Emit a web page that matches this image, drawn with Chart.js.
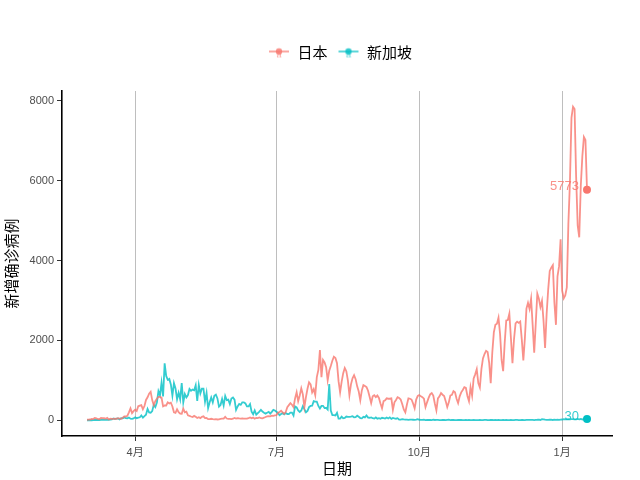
<!DOCTYPE html>
<html>
<head>
<meta charset="utf-8">
<script src="https://cdn.jsdelivr.net/npm/chart.js@4/dist/chart.umd.min.js"></script>
<style>
  html, body { margin: 0; padding: 0; background: #ffffff; }
  #c { display: block; }
</style>
</head>
<body>
<canvas id="c" width="640" height="480"></canvas>
<script>
// ---- Data (day index 0 = 2020-03-01, last = 2021-01-17) ----
const startDate = '2020-03-01';
const seriesNames = ['日本', '新加坡'];
const xTickDays = [31, 122, 214, 306];          // 2020-04-01, 07-01, 10-01, 2021-01-01
const xTickLabels = ['4月', '7月', '10月', '1月'];
const yTickValues = [0, 2000, 4000, 6000, 8000];

const japan = [
  // Mar
  14, 16, 20, 33, 31, 59, 47, 33, 26, 59, 52, 54, 41, 63, 21, 43, 34, 38, 39, 35, 53, 43, 39, 65, 96, 96, 112, 200, 300, 180, 230,
  // Apr
  266, 235, 351, 367, 380, 278, 357, 510, 576, 666, 714, 507, 380, 482, 540, 587, 588, 568, 349, 374, 371, 450, 423, 440, 345, 201, 185, 277, 203, 166,
  // May
  165, 294, 200, 218, 124, 113, 96, 82, 110, 88, 58, 77, 55, 89, 99, 55, 58, 30, 30, 39, 29, 26, 30, 21, 22, 35, 40, 42, 85, 45, 36,
  // Jun
  38, 31, 40, 60, 45, 56, 46, 41, 45, 40, 41, 43, 53, 72, 52, 69, 40, 62, 57, 70, 53, 51, 65, 82, 99, 103, 99, 116, 111, 125,
  // Jul
  130, 190, 210, 240, 200, 160, 210, 330, 380, 430, 390, 330, 550, 700, 480, 620, 800, 650, 330, 580, 790, 950, 900, 700, 780, 630, 1080, 1260, 1760, 1080, 1510,
  // Aug
  1450, 1330, 1000, 1240, 1360, 1490, 1590, 1560, 1430, 980, 700, 970, 1180, 1310, 1230, 1000, 630, 900, 1050, 1130, 1030, 850, 720, 500, 750, 880, 860, 830, 740, 590, 430,
  // Sep
  600, 630, 580, 620, 560, 420, 300, 480, 500, 550, 540, 540, 550, 260, 450, 510, 580, 560, 520, 410, 270, 200, 390, 550, 540, 520, 420, 300, 520, 610,
  // Oct
  630, 600, 580, 540, 330, 450, 560, 650, 680, 620, 420, 250, 550, 600, 680, 640, 610, 480, 330, 450, 620, 640, 730, 700, 540, 430, 600, 700, 760, 830, 810,
  // Nov
  610, 480, 830, 620, 1050, 1150, 1280, 930, 820, 1280, 1550, 1660, 1740, 1710, 1440, 930, 1690, 2200, 2390, 2420, 2570, 2170, 1510, 1230, 1940, 2500, 2510, 2670, 2060, 1430,
  // Dec
  2030, 2426, 2470, 2438, 2470, 2025, 1500, 2056, 2796, 2940, 2786, 3041, 2388, 1690, 2425, 3170, 3044, 2834, 2992, 2494, 1810, 2660, 3270, 3740, 3820, 3881, 2948, 2390, 3604, 3852, 4530,
  // Jan
  3243, 3053, 3128, 3325, 4915, 5946, 7570, 7850, 7790, 6094, 4875, 4580, 5865, 6605, 7090, 7014, 5773
];

const singapore = [
  // Mar
  2, 2, 2, 2, 5, 13, 8, 12, 6, 10, 12, 9, 13, 12, 14, 17, 23, 47, 32, 40, 47, 23, 54, 49, 73, 52, 49, 70, 42, 35, 47,
  // Apr
  74, 49, 65, 75, 120, 66, 106, 142, 287, 198, 191, 233, 386, 334, 447, 728, 623, 942, 596, 1426, 1111, 1016, 1037, 897, 618, 931, 799, 528, 690, 528,
  // May
  932, 447, 657, 573, 632, 788, 741, 768, 753, 876, 486, 884, 675, 792, 793, 465, 682, 305, 451, 570, 448, 614, 642, 548, 344, 383, 533, 373, 611, 506, 518,
  // Jun
  408, 544, 569, 516, 261, 347, 407, 386, 451, 451, 422, 347, 347, 407, 214, 151, 247, 142, 180, 218, 262, 218, 191, 168, 191, 213, 167, 213, 262, 246,
  // Jul
  215, 185, 126, 157, 179, 150, 183, 158, 154, 191, 193, 120, 347, 322, 248, 209, 247, 354, 280, 201, 236, 330, 359, 364, 481, 466, 469, 359, 296, 359, 362,
  // Aug
  307, 313, 271, 908, 242, 131, 132, 123, 188, 42, 42, 93, 50, 58, 94, 85, 86, 91, 103, 75, 80, 116, 87, 57, 50, 88, 73, 120, 69, 64, 72,
  // Sep
  53, 43, 72, 40, 53, 40, 63, 56, 45, 69, 46, 74, 38, 61, 49, 40, 54, 18, 17, 29, 22, 18, 15, 11, 15, 16, 14, 12, 17, 27,
  // Oct
  14, 11, 9, 15, 6, 12, 8, 12, 5, 15, 8, 9, 11, 5, 7, 10, 8, 6, 13, 15, 6, 11, 8, 5, 7, 10, 8, 12, 6, 5, 8,
  // Nov
  7, 12, 7, 6, 13, 4, 7, 6, 11, 6, 4, 10, 12, 7, 5, 8, 9, 6, 12, 4, 10, 7, 4, 11, 6, 9, 6, 5, 8, 7,
  // Dec
  5, 9, 10, 7, 6, 12, 8, 6, 9, 11, 13, 9, 10, 6, 11, 14, 18, 9, 30, 24, 15, 10, 9, 14, 19, 8, 17, 9, 14, 10, 16,
  // Jan
  20, 29, 23, 24, 27, 23, 29, 28, 22, 23, 34, 26, 33, 21, 28, 30, 30
];

// ---- Styling ----
const solid = ['#F8766D', '#00BFC4'];
const lineCol = ['rgba(248,118,109,0.8)', 'rgba(0,191,196,0.8)'];
const latin = "'Liberation Sans', Arial, 'Noto Sans CJK SC', sans-serif";
const cjk = "'Noto Sans CJK SC', 'Liberation Sans', sans-serif";

function legendIcon(color) {
  const c = document.createElement('canvas');
  c.width = 22; c.height = 16;
  const g = c.getContext('2d');
  g.strokeStyle = color; g.lineWidth = 1.6;
  g.beginPath(); g.moveTo(1, 7); g.lineTo(21, 7); g.stroke();
  g.fillStyle = color;
  g.beginPath(); g.arc(11, 7, 3.2, 0, Math.PI * 2); g.fill();
  g.font = "9px 'Liberation Sans', Arial";
  g.textAlign = 'center'; g.textBaseline = 'middle';
  g.globalAlpha = 0.8;
  g.fillText('a', 11, 11);
  return c;
}
const icons = [legendIcon(lineCol[0]), legendIcon(lineCol[1])];

function series(arr) { return arr.map((v, i) => ({ x: i, y: v })); }

const nDays = japan.length - 1;
const xPad = nDays * 0.05;
const yMaxData = Math.max(...japan, ...singapore);
const yPad = yMaxData * 0.05;

const endLabels = {
  id: 'endLabels',
  afterDatasetsDraw(chart) {
    const ctx = chart.ctx;
    ctx.save();
    ctx.font = "13px 'Liberation Sans', Arial";
    ctx.textAlign = 'right';
    ctx.textBaseline = 'middle';
    chart.data.datasets.forEach((ds, di) => {
      const meta = chart.getDatasetMeta(di);
      const last = meta.data[meta.data.length - 1];
      const val = ds.data[ds.data.length - 1].y;
      ctx.fillStyle = lineCol[di];
      ctx.fillText(String(val), last.x - 8, last.y - 3);
    });
    ctx.restore();
  }
};

const legendTweak = {
  id: 'legendTweak',
  beforeInit(chart) {
    const lg = chart.legend;
    const fit = lg.fit;
    lg.fit = function () { fit.call(this); this.height = 56; };
    const draw = lg.draw;
    lg.draw = function () {
      const ca = chart.chartArea;
      let minX = Infinity, maxX = -Infinity;
      (this.legendHitBoxes || []).forEach(b => { minX = Math.min(minX, b.left); maxX = Math.max(maxX, b.left + b.width); });
      const dx = isFinite(minX) ? (ca.left + ca.right) / 2 - (minX + maxX) / 2 + 3 : 0;
      chart.ctx.save();
      chart.ctx.translate(dx, 0);
      draw.call(this);
      chart.ctx.restore();
    };
  }
};

new Chart(document.getElementById('c'), {
  type: 'line',
  data: {
    datasets: [
      { label: seriesNames[0], data: series(japan) },
      { label: seriesNames[1], data: series(singapore) }
    ].map((d, i) => Object.assign(d, {
      borderColor: lineCol[i],
      backgroundColor: solid[i],
      borderWidth: 1.8,
      tension: 0,
      fill: false,
      pointRadius: ctx => (ctx.dataIndex === ctx.dataset.data.length - 1 ? 4 : 0),
      pointBackgroundColor: solid[i],
      pointBorderWidth: 0,
      pointHoverRadius: 0
    }))
  },
  options: {
    responsive: false,
    animation: false,
    events: [],
    layout: { padding: { top: 35, right: 28, bottom: 0, left: 0 } },
    scales: {
      x: {
        type: 'linear',
        min: -xPad,
        max: nDays + xPad,
        afterBuildTicks: s => { s.ticks = xTickDays.map(v => ({ value: v })); },
        afterFit: s => { s.height = 44; },
        ticks: {
          callback: (v) => { const k = xTickDays.indexOf(v); return k >= 0 ? xTickLabels[k] : ''; },
          color: '#4D4D4D',
          font: { family: latin, size: 11 },
          padding: 5,
          maxRotation: 0,
          autoSkip: false
        },
        grid: { color: '#BEBEBE', lineWidth: 1, tickLength: 5, tickColor: '#333333', drawOnChartArea: true },
        border: { display: true, color: '#000000', width: 1.6 },
        title: { display: true, text: '日期', color: '#000000', font: { family: cjk, size: 15 }, padding: { top: 0, bottom: 3 } }
      },
      y: {
        min: -yPad,
        max: yMaxData + yPad,
        afterBuildTicks: s => { s.ticks = yTickValues.map(v => ({ value: v })); },
        afterFit: s => { s.width = 62; },
        ticks: {
          callback: v => String(v),
          color: '#4D4D4D',
          font: { family: latin, size: 11 },
          padding: 3
        },
        grid: { drawOnChartArea: false, tickLength: 5, tickColor: '#333333' },
        border: { display: true, color: '#000000', width: 1.6 },
        title: { display: true, text: '新增确诊病例', color: '#000000', font: { family: cjk, size: 15 }, padding: { top: 2, bottom: 0 } }
      }
    },
    plugins: {
      tooltip: { enabled: false },
      legend: {
        display: true,
        position: 'top',
        labels: {
          usePointStyle: true,
          pointStyleWidth: 22,
          boxHeight: 15,
          padding: 10,
          color: '#000000',
          font: { family: cjk, size: 15 },
          generateLabels: chart => Chart.defaults.plugins.legend.labels.generateLabels(chart).map((l, i) => Object.assign(l, { pointStyle: icons[i], lineWidth: 0 }))
        }
      }
    }
  },
  plugins: [endLabels, legendTweak]
});
</script>
</body>
</html>
